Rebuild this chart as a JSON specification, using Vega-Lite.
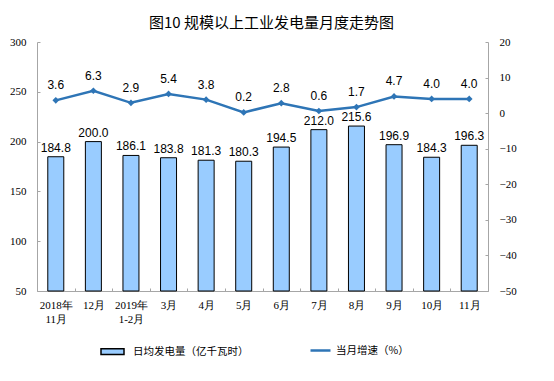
{
  "$schema": "https://vega.github.io/schema/vega-lite/v6.json",
  "width": 451,
  "height": 249,
  "autosize": {"type": "none"},
  "padding": {"left": 37, "top": 42, "right": 66, "bottom": 90},
  "background": "white",
  "title": {"text": "图10  规模以上工业发电量月度走势图", "font": "Noto Sans CJK SC", "fontSize": 15, "fontWeight": "normal", "color": "black", "offset": 5, "dx": 9},
  "config": {"view": {"stroke": null}},
  "data": {"values": [
    {"month": "2018年|11月", "value": 184.8, "growth": 3.6},
    {"month": "12月", "value": 200.0, "growth": 6.3},
    {"month": "2019年|1-2月", "value": 186.1, "growth": 2.9},
    {"month": "3月", "value": 183.8, "growth": 5.4},
    {"month": "4月", "value": 181.3, "growth": 3.8},
    {"month": "5月", "value": 180.3, "growth": 0.2},
    {"month": "6月", "value": 194.5, "growth": 2.8},
    {"month": "7月", "value": 212.0, "growth": 0.6},
    {"month": "8月", "value": 215.6, "growth": 1.7},
    {"month": "9月", "value": 196.9, "growth": 4.7},
    {"month": "10月", "value": 184.3, "growth": 4.0},
    {"month": "11月", "value": 196.3, "growth": 4.0}
  ]},
  "encoding": {
    "x": {"field": "month", "type": "nominal", "sort": null, "title": null,
      "scale": {"paddingInner": 0, "paddingOuter": 0},
      "axis": {"labelAngle": 0, "tickBand": "extent", "labelExpr": "isValid(datum.value) ? split(datum.value, '|') : ''", "labelOverlap": false, "domainColor": "#A6A6A6", "tickColor": "#A6A6A6", "tickSize": -3, "labelFont": "Liberation Serif", "labelFontSize": 11, "labelColor": "black", "labelPadding": 11, "labelLineHeight": 14}}
  },
  "layer": [
    {
      "encoding": {
        "y": {"field": "value", "type": "quantitative", "title": null,
          "scale": {"domain": [50, 300], "zero": false, "nice": false},
          "axis": {"values": [50, 100, 150, 200, 250, 300], "labelOverlap": false, "grid": false, "domainColor": "#A6A6A6", "tickColor": "#A6A6A6", "tickSize": -3, "labelFont": "Liberation Serif", "labelFontSize": 11, "labelColor": "black", "labelPadding": 14}}
      },
      "layer": [
        {
          "mark": {"type": "bar", "size": 16, "stroke": "black", "strokeWidth": 1},
          "encoding": {
            "y2": {"datum": 50},
            "fill": {"datum": "日均发电量（亿千瓦时）", "scale": {"range": ["#99CCFF"]},
              "legend": {"orient": "none", "legendX": 63, "legendY": 297, "title": null, "symbolType": "M-1,-0.25H1V0.25H-1Z", "symbolSize": 529, "symbolStrokeColor": "black", "symbolStrokeWidth": 1.5, "labelFont": "Noto Sans CJK SC", "labelFontSize": 10.5, "labelColor": "black", "labelOffset": 8}}
          }
        },
        {
          "mark": {"type": "text", "baseline": "bottom", "dy": -2, "font": "Liberation Sans", "fontSize": 12, "color": "black"},
          "encoding": {
            "text": {"field": "value", "type": "quantitative", "format": ".1f"}
          }
        }
      ]
    },
    {
      "encoding": {
        "y": {"field": "growth", "type": "quantitative", "title": null,
          "scale": {"domain": [-50, 20], "nice": false},
          "axis": {"orient": "right", "values": [-50, -40, -30, -20, -10, 0, 10, 20], "labelOverlap": false, "grid": false, "domainColor": "#A6A6A6", "tickColor": "#A6A6A6", "tickSize": -3, "labelFont": "Liberation Serif", "labelFontSize": 11, "labelColor": "black", "labelPadding": 14}}
      },
      "layer": [
        {
          "mark": {"type": "line", "strokeWidth": 2.5, "point": {"shape": "diamond", "filled": true, "size": 45, "color": "#2E75B6"}},
          "encoding": {
            "color": {"datum": "当月增速（%）", "scale": {"range": ["#2E75B6"]},
              "legend": {"orient": "none", "legendX": 272, "legendY": 297, "title": null, "symbolType": "stroke", "symbolSize": 400, "symbolStrokeWidth": 2.5, "labelFont": "Noto Sans CJK SC", "labelFontSize": 10.5, "labelColor": "black", "labelOffset": 4}}
          }
        },
        {
          "mark": {"type": "text", "baseline": "bottom", "dy": -8, "font": "Liberation Sans", "fontSize": 12, "color": "black"},
          "encoding": {
            "text": {"field": "growth", "type": "quantitative", "format": ".1f"}
          }
        }
      ]
    }
  ],
  "resolve": {"scale": {"y": "independent"}}
}
